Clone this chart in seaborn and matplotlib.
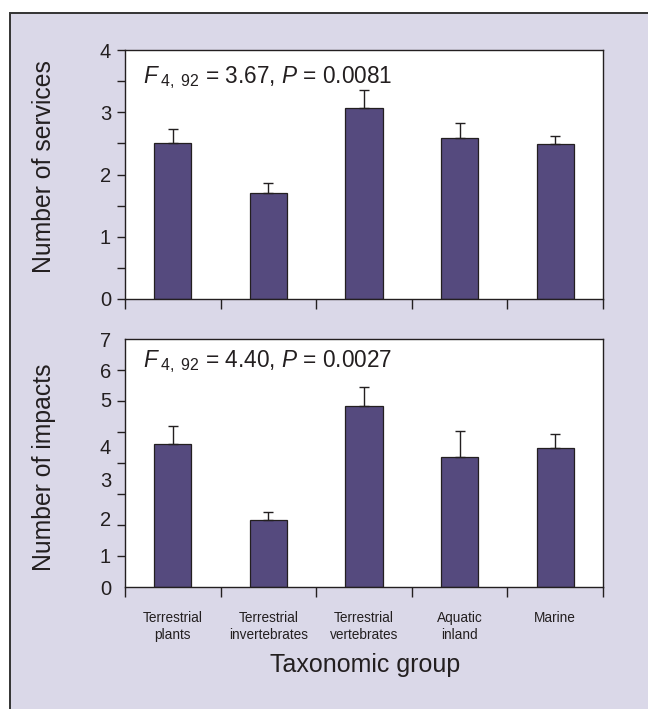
import numpy as np
import pandas as pd
import matplotlib
matplotlib.use("Agg")
import matplotlib.pyplot as plt
import seaborn as sns
from matplotlib import font_manager
from matplotlib.patches import Rectangle

# ---------------- data ----------------
groups = ["Terrestrial\nplants", "Terrestrial\ninvertebrates", "Terrestrial\nvertebrates",
          "Aquatic\ninland", "Marine"]
services_mean = [2.50, 1.71, 3.07, 2.58, 2.49]
services_se = [0.23, 0.15, 0.28, 0.24, 0.13]
impacts_mean = [4.04, 1.91, 5.13, 3.68, 3.92]
impacts_se = [0.51, 0.21, 0.53, 0.73, 0.41]

services_ticklabels = ["0", "1", "2", "3", "4"]
services_tickpos = [0, 1, 2, 3, 4]
impacts_ticklabels = ["0", "1", "2", "3", "4", "5", "6", "7"]
impacts_tickpos = [0, 0.91, 1.95, 3.03, 3.97, 5.29, 6.11, 7.0]

services_stat = r"$\mathit{F}_{\;\mathrm{4,\ 92}}$ = 3.67, $\mathit{P}$ = 0.0081"
impacts_stat = r"$\mathit{F}_{\;\mathrm{4,\ 92}}$ = 4.40, $\mathit{P}$ = 0.0027"

# ---------------- style ----------------
sns.set_style("ticks")
plt.rcParams["font.family"] = ["Liberation Sans", "DejaVu Sans"]
plt.rcParams["mathtext.fontset"] = "custom"
plt.rcParams["mathtext.rm"] = "Liberation Sans"
plt.rcParams["mathtext.it"] = "Liberation Sans:italic"
plt.rcParams["mathtext.bf"] = "Liberation Sans:bold"

available = {f.name for f in font_manager.fontManager.ttflist}
if "Liberation Sans Narrow" in available:
    cat_family, cat_size = ["Liberation Sans Narrow", "Liberation Sans"], 11
else:
    cat_family, cat_size = ["Liberation Sans", "DejaVu Sans"], 9.8

ink = "#231f20"
bar_color = "#554a7e"
lavender = "#dad8e8"

W, H = 648, 709
fig = plt.figure(figsize=(W / 100, H / 100), dpi=100, facecolor="white")
fig.add_artist(Rectangle((10 / W, -0.02), 1.1, 1 - 13 / H + 0.02, transform=fig.transFigure,
                         facecolor=lavender, edgecolor="#333333", linewidth=1.4, zorder=-10))


def px_axes(left, top, right, bottom):
    return fig.add_axes([left / W, 1 - bottom / H, (right - left) / W, (bottom - top) / H])


ax1 = px_axes(125, 50, 603, 299)
ax2 = px_axes(125, 339.3, 603, 587.3)

for ax, means, ses in [(ax1, services_mean, services_se), (ax2, impacts_mean, impacts_se)]:
    df = pd.DataFrame({"group": groups, "value": means})
    sns.barplot(data=df, x="group", y="value", color=bar_color, saturation=1,
                edgecolor=ink, linewidth=0.9, width=0.39, errorbar=None, ax=ax, zorder=2)
    ax.errorbar(np.arange(len(means)), means, yerr=[np.zeros(len(means)), ses], fmt="none",
                ecolor=ink, elinewidth=1.0, capsize=3.3, capthick=1.0, zorder=3)
    ax.set_facecolor("white")
    for s in ax.spines.values():
        s.set_visible(True)
        s.set_color(ink)
        s.set_linewidth(1.0)
    ax.set_xlim(-0.5, len(groups) - 0.5)
    ax.set_xticks(np.arange(-0.5, len(groups)), minor=False)
    ax.set_xticklabels([])
    ax.set_xticks(np.arange(len(groups)), minor=True)
    ax.tick_params(axis="x", which="major", direction="out", length=7, width=1.0, color=ink)
    ax.tick_params(axis="x", which="minor", length=0)
    ax.set_xlabel("")

# top y axis
ax1.set_ylim(0, 4)
ax1.set_yticks(services_tickpos)
ax1.set_yticklabels(services_ticklabels)
ax1.set_yticks(np.arange(0, 4.01, 0.5), minor=True)
ax1.set_xticklabels([], minor=True)

# bottom y axis: evenly spaced marks, labels at their own places
ax2.set_ylim(0, 7)
ax2.set_yticks(impacts_tickpos)
ax2.set_yticklabels(impacts_ticklabels)
ax2.set_yticks(np.linspace(0, 7, 9), minor=True)
ax2.set_xticklabels(groups, minor=True, fontfamily=cat_family, fontsize=cat_size, color=ink,
                    linespacing=1.3)
ax2.tick_params(axis="x", which="minor", pad=17)

ax1.tick_params(axis="y", which="both", direction="out", length=6, width=1.0, color=ink,
                labelsize=14.5, labelcolor=ink, pad=4)
ax2.tick_params(axis="y", which="major", length=0, labelsize=14.5, labelcolor=ink, pad=10)
ax2.tick_params(axis="y", which="minor", direction="out", length=6, width=1.0, color=ink)

ax1.set_ylabel("Number of services", fontsize=17.8, color=ink, va="center")
ax1.yaxis.set_label_coords((44 - 125) / 478, 0.53)
ax2.set_ylabel("Number of impacts", fontsize=17.8, color=ink, va="center")
ax2.yaxis.set_label_coords((44 - 125) / 478, 0.485)
ax2.set_xlabel("Taxonomic group", fontsize=18, color=ink, va="center")
ax2.xaxis.set_label_coords(0.502, -0.312)

ax1.text(0.038, 0.866, services_stat, transform=ax1.transAxes, fontsize=16.3, color=ink,
         ha="left", va="baseline")
ax2.text(0.038, 0.889, impacts_stat, transform=ax2.transAxes, fontsize=16.3, color=ink,
         ha="left", va="baseline")

fig.savefig("out.png", dpi=100, facecolor="white")
